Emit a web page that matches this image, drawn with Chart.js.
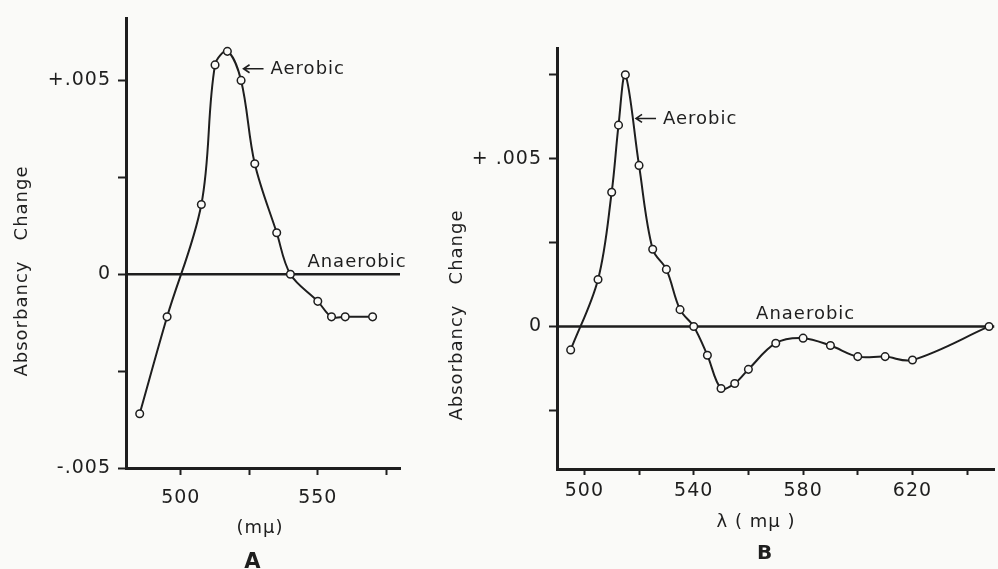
<!DOCTYPE html>
<html>
<head>
<meta charset="utf-8">
<script src="https://cdn.jsdelivr.net/npm/chart.js@4.4.0/dist/chart.umd.min.js"></script>
<style>
  html, body { margin: 0; padding: 0; width: 998px; height: 569px; overflow: hidden; background: #fafaf8; }
  #panelA { position: absolute; left: 0; top: 0; }
  #panelB { position: absolute; left: 440px; top: 0; }
</style>
</head>
<body>
<canvas id="panelA" width="430" height="569"></canvas>
<canvas id="panelB" width="560" height="569"></canvas>
<script>
// ---- panel A data (wavelength in mu, absorbancy change)
const waveA = [485, 495, 507.5, 512.5, 517, 522, 527, 535, 540, 550, 555, 560, 570];
const aerobicA = [-0.0036, -0.0011, 0.0018, 0.0054, 0.00575, 0.005, 0.00285, 0.00107, 0, -0.0007, -0.0011, -0.0011, -0.0011];
const anaerobicWaveA = [480, 580];
const anaerobicA = [0, 0];
const xTicksA = [500, 525, 550, 575];
const xLabelsA = ['500', '', '550', ''];
const yTicksA = [-0.005, -0.0025, 0, 0.0025, 0.005];
const yLabelsA = ['-.005', '', '0', '', '+.005'];

// ---- panel B data
const waveB = [495, 505, 510, 512.5, 515, 520, 525, 530, 535, 540, 545, 550, 555, 560, 570, 580, 590, 600, 610, 620, 648];
const aerobicB = [-0.0007, 0.0014, 0.004, 0.006, 0.0075, 0.0048, 0.0023, 0.0017, 0.0005, 0, -0.00086, -0.00185, -0.0017, -0.00128, -0.0005, -0.00035, -0.00057, -0.0009, -0.0009, -0.001, 0];
const anaerobicWaveB = [490, 650];
const anaerobicB = [0, 0];
const xTicksB = [500, 520, 540, 560, 580, 600, 620, 640];
const xLabelsB = ['500', '', '540', '', '580', '', '620', ''];
const yTicksB = [-0.0025, 0, 0.0025, 0.005, 0.0075];
const yLabelsB = ['', '0', '', '+ .005', ''];

const INK = '#1e1e1e';
const FAMILY = '"DejaVu Sans", sans-serif';
const SPACING = '1px';

// text notes: either tied to data (at) or plain canvas pixels (px)
function notesPlugin(items) {
  return {
    id: 'notes',
    beforeUpdate(chart) { chart.ctx.letterSpacing = SPACING; },
    beforeDraw(chart) { chart.ctx.letterSpacing = SPACING; },
    afterDraw(chart) {
      const ctx = chart.ctx;
      const { x, y } = chart.scales;
      ctx.save();
      ctx.fillStyle = INK;
      ctx.strokeStyle = INK;
      ctx.letterSpacing = SPACING;
      for (const n of items) {
        let px, py;
        if (n.at) {
          px = x.getPixelForValue(n.at[0]);
          py = y.getPixelForValue(n.at[1]) + (n.dy || 0);
        } else {
          px = n.px[0];
          py = n.px[1];
        }
        ctx.font = n.font || ('18px ' + FAMILY);
        ctx.textBaseline = 'middle';
        if (n.arrow) {
          ctx.lineWidth = 1.6;
          ctx.beginPath();
          ctx.moveTo(px, py);
          ctx.lineTo(px + 20, py);
          ctx.moveTo(px + 6, py - 4);
          ctx.lineTo(px, py);
          ctx.lineTo(px + 6, py + 4);
          ctx.stroke();
          ctx.textAlign = 'left';
          ctx.fillText(n.text, px + 27, py + 1);
        } else if (n.rotate) {
          ctx.save();
          ctx.translate(px, py);
          ctx.rotate(-Math.PI / 2);
          ctx.textAlign = 'center';
          ctx.fillText(n.text, 0, 0);
          ctx.restore();
        } else {
          ctx.textAlign = n.align || 'center';
          ctx.fillText(n.text, px, py);
        }
      }
      ctx.restore();
    }
  };
}

function makePanel(id, cfg) {
  const tickFont = { family: FAMILY, size: 19 };
  return new Chart(document.getElementById(id), {
    type: 'line',
    data: {
      datasets: [
        {
          data: cfg.wave.map((w, i) => ({ x: w, y: cfg.aerobic[i] })),
          borderColor: INK,
          borderWidth: 2,
          tension: 0.35,
          pointRadius: 3.8,
          pointBorderWidth: 1.5,
          pointBorderColor: INK,
          pointBackgroundColor: '#fafaf8'
        },
        {
          data: cfg.baseWave.map((w, i) => ({ x: w, y: cfg.base[i] })),
          borderColor: INK,
          borderWidth: 2.5,
          pointRadius: 0
        }
      ]
    },
    options: {
      responsive: false,
      animation: false,
      events: [],
      layout: { padding: cfg.padding },
      plugins: {
        legend: { display: false },
        tooltip: { enabled: false }
      },
      scales: {
        x: {
          type: 'linear',
          min: cfg.xMin,
          max: cfg.xMax,
          afterBuildTicks: s => { s.ticks = cfg.xTicks.map(v => ({ value: v })); },
          afterFit: s => { s.height = cfg.xHeight; },
          border: { display: true, color: INK, width: 3 },
          grid: { drawOnChartArea: false, drawTicks: true, tickLength: cfg.xTickLen, tickWidth: 2, tickColor: INK },
          ticks: {
            autoSkip: false, maxRotation: 0, color: INK, font: tickFont, padding: cfg.xPad,
            callback: (v, i) => cfg.xLabels[i]
          }
        },
        y: {
          type: 'linear',
          min: cfg.yMin,
          max: cfg.yMax,
          afterBuildTicks: s => { s.ticks = cfg.yTicks.map(v => ({ value: v })); },
          afterFit: s => { s.width = cfg.yWidth; },
          border: { display: true, color: INK, width: 3 },
          grid: { drawOnChartArea: false, drawTicks: true, tickLength: 8, tickWidth: 2, tickColor: INK },
          ticks: {
            autoSkip: false, color: INK, font: tickFont, padding: 7,
            callback: (v, i) => cfg.yLabels[i]
          }
        }
      }
    },
    plugins: [notesPlugin(cfg.notes)]
  });
}

makePanel('panelA', {
  wave: waveA, aerobic: aerobicA, baseWave: anaerobicWaveA, base: anaerobicA,
  xMin: 480, xMax: 580, yMin: -0.005, yMax: 0.0066,
  xTicks: xTicksA, xLabels: xLabelsA, yTicks: yTicksA, yLabels: yLabelsA,
  padding: { top: 13, right: 30, left: 0, bottom: 0 },
  yWidth: 126, xHeight: 101, xTickLen: 7, xPad: 12,
  notes: [
    { text: 'Absorbancy   Change', px: [22, 271], rotate: true, font: '18px ' + FAMILY },
    { text: '(mμ)', px: [260, 528], font: '18px ' + FAMILY },
    { text: 'A', px: [253, 563], font: 'bold 21px ' + FAMILY },
    { text: 'Aerobic', at: [522.9, 0.0053], arrow: true },
    { text: 'Anaerobic', at: [546.2, 0], dy: -12, align: 'left' }
  ]
});

makePanel('panelB', {
  wave: waveB, aerobic: aerobicB, baseWave: anaerobicWaveB, base: anaerobicB,
  xMin: 490, xMax: 650, yMin: -0.00425, yMax: 0.0083,
  xTicks: xTicksB, xLabels: xLabelsB, yTicks: yTicksB, yLabels: yLabelsB,
  padding: { top: 48, right: 0, left: 0, bottom: 0 },
  yWidth: 117, xHeight: 100, xTickLen: 6, xPad: 5,
  notes: [
    { text: 'Absorbancy   Change', px: [17, 315], rotate: true, font: '18px ' + FAMILY },
    { text: 'λ ( mμ )', px: [316, 522], font: '18px ' + FAMILY },
    { text: 'B', px: [325, 554], font: 'bold 20px ' + FAMILY },
    { text: 'Aerobic', at: [518.9, 0.0062], arrow: true },
    { text: 'Anaerobic', at: [562.8, 0], dy: -12, align: 'left' }
  ]
});
</script>
</body>
</html>
